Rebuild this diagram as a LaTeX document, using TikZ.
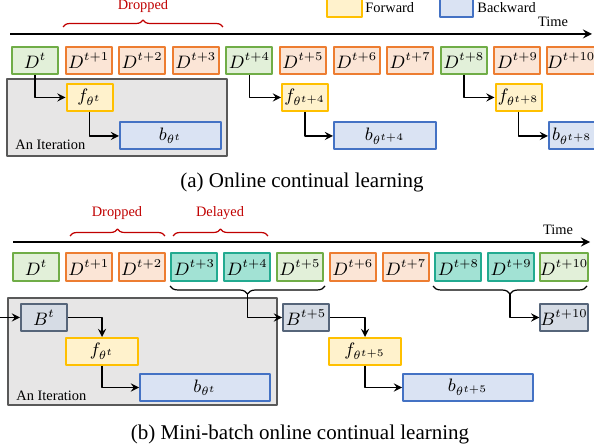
\documentclass[tikz,border=0pt]{standalone}
\usepackage{fontspec}
\setmainfont{Liberation Serif}
\usetikzlibrary{decorations.pathreplacing}
\definecolor{grnD}{HTML}{70AD47}
\definecolor{grnL}{HTML}{E2F0D9}
\definecolor{orgD}{HTML}{ED7D31}
\definecolor{orgL}{HTML}{FBE5D6}
\definecolor{tealD}{HTML}{22AA90}
\definecolor{tealL}{HTML}{A2E2D4}
\definecolor{ylwD}{HTML}{FFC000}
\definecolor{ylwL}{HTML}{FFF2CC}
\definecolor{bluD}{HTML}{4472C4}
\definecolor{bluL}{HTML}{DAE3F3}
\definecolor{slateD}{HTML}{56657A}
\definecolor{slateL}{HTML}{D6DCE5}
\definecolor{grayD}{HTML}{595959}
\definecolor{grayL}{HTML}{E7E6E6}
\definecolor{braceR}{HTML}{C00000}
\begin{document}
\begin{tikzpicture}[x=0.5pt,y=-0.5pt,line join=round,>=stealth,
	box/.style={draw,line width=1pt,minimum width=23pt,minimum height=13.5pt,inner sep=0pt,font=\fontsize{9}{10}\selectfont},
	dnew/.style={box,draw=grnD,fill=grnL},
	ddrop/.style={box,draw=orgD,fill=orgL},
	ddelay/.style={box,draw=tealD,fill=tealL},
	fwd/.style={box,draw=ylwD,fill=ylwL},
	bwd/.style={box,draw=bluD,fill=bluL},
	batch/.style={box,draw=slateD,fill=slateL},
	iter/.style={draw=grayD,fill=grayL,line width=0.7pt},
	conn/.style={->,line width=0.8pt},
	note/.style={font=\fontsize{7.2}{8}\selectfont,inner sep=0pt},
	redbrace/.style={decorate,decoration={brace,amplitude=3.5pt},draw=braceR,line width=0.6pt},
	blkbrace/.style={decorate,decoration={brace,amplitude=4pt,mirror},draw=black,line width=0.6pt}]
	\clip (0,0) rectangle (594,448);
	% (a) online continual learning
	\coordinate (ta0) at (10,34);
	\coordinate (ta1) at (592,34);
	\draw[->,line width=1pt] (ta0) -- (ta1);
	\node[note] (timeA) at (553,22) {Time};
	\node[fwd,minimum width=17.5pt,minimum height=10pt] (legF) at (344.5,7) {};
	\node[note,anchor=west] (legFt) at (365,8) {Forward};
	\node[bwd,minimum width=16.5pt,minimum height=10pt] (legB) at (456.5,7) {};
	\node[note,anchor=west] (legBt) at (477,8) {Backward};
	\draw[redbrace] (63,27) -- (223,27);
	\node[note,text=braceR] (dropA) at (143,6) {Dropped};
	\foreach \i/\s/\lab in {0/dnew/t,1/ddrop/t+1,2/ddrop/t+2,3/ddrop/t+3,4/dnew/t+4,5/ddrop/t+5,
		6/ddrop/t+6,7/ddrop/t+7,8/dnew/t+8,9/ddrop/t+9,10/ddrop/t+10}
		\node[\s] (Da\i) at ({35+53.6*\i},60.5) {$D^{\lab}$};
	\draw[iter] (7,79) rectangle (227,156);
	\node[note,anchor=west] (iterA) at (15,145) {An Iteration};
	\node[fwd] (fa0) at (89.5,97.5) {$f_{\theta^{t}}$};
	\node[bwd,minimum width=50.5pt] (ba0) at (170.5,136) {$b_{\theta^{t}}$};
	\node[fwd] (fa4) at (305,97.5) {$f_{\theta^{t+4}}$};
	\node[bwd,minimum width=51pt] (ba4) at (385,136) {$b_{\theta^{t+4}}$};
	\node[fwd] (fa8) at (518.5,97.5) {$f_{\theta^{t+8}}$};
	\node[bwd,minimum width=51pt,text width=48pt] (ba8) at (600,136) {$b_{\theta^{t+8}}$};
	\draw[conn] (Da0.south) |- (fa0.west);
	\draw[conn] (fa0.south) |- (ba0.west);
	\draw[conn] (Da4.south) |- (fa4.west);
	\draw[conn] (fa4.south) |- (ba4.west);
	\draw[conn] (Da8.south) |- (fa8.west);
	\draw[conn] (fa8.south) |- (ba8.west);
	\node[font=\fontsize{10.5}{12}\selectfont] (capA) at (302,182) {(a) Online continual learning};
	% (b) mini-batch online continual learning
	\coordinate (tb0) at (13,242);
	\coordinate (tb1) at (590,242);
	\draw[->,line width=1pt] (tb0) -- (tb1);
	\node[note] (timeB) at (558,230) {Time};
	\draw[redbrace] (70,236) -- (165,236);
	\draw[redbrace] (173,236) -- (268,236);
	\node[note,text=braceR] (dropB) at (117,213) {Dropped};
	\node[note,text=braceR] (delayB) at (220,213) {Delayed};
	\foreach \i/\s/\lab in {0/dnew/t,1/ddrop/t+1,2/ddrop/t+2,3/ddelay/t+3,4/ddelay/t+4,5/dnew/t+5,
		6/ddrop/t+6,7/ddrop/t+7,8/ddelay/t+8,9/ddelay/t+9,10/dnew/t+10}
		\node[\s,minimum height=14pt] (Db\i) at ({36+52.8*\i},267.5) {$D^{\lab}$};
	\draw[blkbrace] (170,286) -- (325,286);
	\draw[blkbrace] (433,286) -- (587,286);
	\coordinate (tipB5) at (247.5,294);
	\coordinate (tipB10) at (510,294);
	\draw[iter] (8,298) rectangle (277,405);
	\node[note,anchor=west] (iterB) at (16,396) {An Iteration};
	\node[batch] (Bb0) at (44,317.5) {$B^{t}$};
	\node[fwd,minimum width=36pt] (fb0) at (102,351.5) {$f_{\theta^{t}}$};
	\node[bwd,minimum width=65pt] (bb0) at (205,387.5) {$b_{\theta^{t}}$};
	\node[batch] (Bb5) at (306,317.5) {$B^{t+5}$};
	\node[fwd,minimum width=36pt] (fb5) at (365,351.5) {$f_{\theta^{t+5}}$};
	\node[bwd,minimum width=65pt] (bb5) at (468,387.5) {$b_{\theta^{t+5}}$};
	\node[batch] (Bb10) at (564,317.5) {$B^{t+10}$};
	\coordinate (inB) at (0,317.5);
	\draw[conn] (inB) -- (Bb0.west);
	\draw[conn] (Bb0.east) -| (fb0.north);
	\draw[conn] (fb0.south) |- (bb0.west);
	\draw[conn] (tipB5) |- (Bb5.west);
	\draw[conn] (Bb5.east) -| (fb5.north);
	\draw[conn] (fb5.south) |- (bb5.west);
	\draw[conn] (tipB10) |- (Bb10.west);
	\node[font=\fontsize{10.5}{12}\selectfont] (capB) at (300,434) {(b) Mini-batch online continual learning};
\end{tikzpicture}
\end{document}
